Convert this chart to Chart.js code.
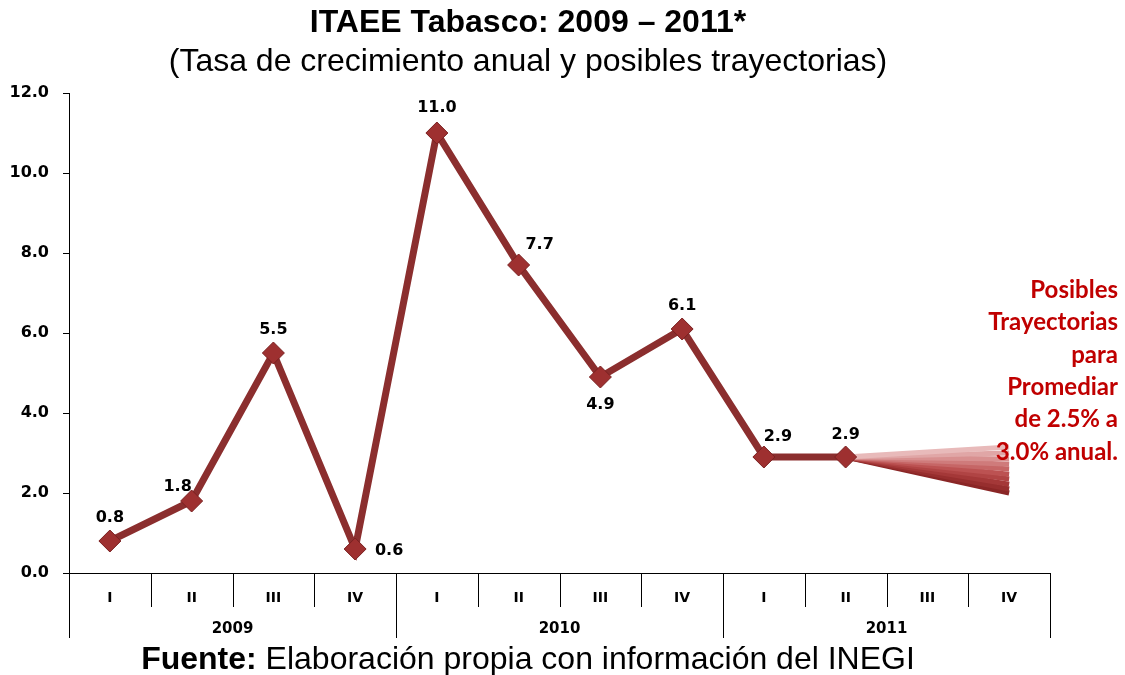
<!DOCTYPE html>
<html>
<head>
<meta charset="utf-8">
<script src="https://cdn.jsdelivr.net/npm/chart.js@4.4.1/dist/chart.umd.min.js"></script>
<style>
  html, body { margin: 0; padding: 0; background: #fff; }
  #wrap { width: 1125px; height: 675px; }
</style>
</head>
<body>
<div id="wrap"><canvas id="itaee"></canvas></div>
<script>
// datos del grafico
const quarters = ["I", "II", "III", "IV", "I", "II", "III", "IV", "I", "II", "III", "IV"];
const years = ["2009", "2010", "2011"];
const growth = [0.8, 1.8, 5.5, 0.6, 11.0, 7.7, 4.9, 6.1, 2.9, 2.9, null, null];
// final de cada trayectoria posible (2011-IV), de la mas alta a la mas baja
const pathEnds = [3.15, 3.0, 2.85, 2.72, 2.6, 2.47, 2.35, 2.22, 2.1, 2.0];
const yTicks = [0, 2, 4, 6, 8, 10, 12];

const mainColor = "#8B2E2E";
const fanColors = [
  "#E8BABA", "#E0A6A6", "#D89090", "#CF7B7B", "#C66666",
  "#BC5252", "#B04444", "#A43838", "#972E2E", "#8A2626",
];
const tickFont = { family: "'DejaVu Sans', Verdana, sans-serif", size: 15, weight: "bold" };

// posicion de cada etiqueta respecto a su punto
const labelOffsets = [
  [0, -23], [-14, -14], [0, -23], [34, 2], [0, -25],
  [21, -20], [0, 28], [0, -23], [14, -20], [0, -22],
];

const datasets = [
  {
    label: "ITAEE",
    data: growth,
    borderColor: mainColor,
    borderWidth: 7,
    pointStyle: "rectRot",
    pointRadius: 11,
    pointHoverRadius: 11,
    pointBackgroundColor: "#9E3030",
    pointBorderColor: "#7A2020",
    pointBorderWidth: 1,
    tension: 0,
  },
];

pathEnds.forEach((end, i) => {
  const d = [null, null, null, null, null, null, null, null, null, 2.9, null, end];
  datasets.push({
    label: "Trayectoria " + (i + 1),
    data: d,
    borderColor: fanColors[i],
    borderWidth: 5,
    pointRadius: 0,
    spanGaps: true,
    tension: 0,
  });
});

const extraText = {
  id: "extraText",
  afterDraw(chart) {
    const ctx = chart.ctx;
    const x = chart.scales.x;
    const y = chart.scales.y;
    const base = y.getPixelForValue(0);
    ctx.save();

    // separadores del eje de categorias
    ctx.strokeStyle = "#000";
    ctx.lineWidth = 1;
    for (let i = 0; i <= quarters.length; i++) {
      const px = Math.round(x.getPixelForValue(i - 0.5)) + 0.5;
      const yearEdge = i % 4 === 0;
      ctx.beginPath();
      ctx.moveTo(px, base);
      ctx.lineTo(px, base + (yearEdge ? 65 : 34));
      ctx.stroke();
    }

    // anos
    ctx.fillStyle = "#000";
    ctx.font = "bold 15px 'DejaVu Sans', Verdana, sans-serif";
    ctx.textAlign = "center";
    ctx.textBaseline = "middle";
    years.forEach((yr, k) => {
      const cx = (x.getPixelForValue(k * 4) + x.getPixelForValue(k * 4 + 3)) / 2;
      ctx.fillText(yr, cx, base + 56);
    });

    // etiquetas de datos
    ctx.font = "bold 16px 'DejaVu Sans', Verdana, sans-serif";
    const meta = chart.getDatasetMeta(0);
    growth.forEach((v, i) => {
      if (v === null) return;
      const pt = meta.data[i];
      const off = labelOffsets[i];
      ctx.fillText(v.toFixed(1), pt.x + off[0], pt.y + off[1]);
    });

    // titulos
    ctx.font = "bold 32px 'Liberation Sans', Arial, sans-serif";
    ctx.fillText("ITAEE Tabasco: 2009 \u2013 2011*", 528, 23);
    ctx.font = "32px 'Liberation Sans', Arial, sans-serif";
    ctx.fillText("(Tasa de crecimiento anual y posibles trayectorias)", 528, 62);

    // fuente
    const boldPart = "Fuente:";
    const restPart = " Elaboraci\u00f3n propia con informaci\u00f3n del INEGI";
    ctx.font = "bold 32px 'Liberation Sans', Arial, sans-serif";
    const w1 = ctx.measureText(boldPart).width;
    ctx.font = "32px 'Liberation Sans', Arial, sans-serif";
    const w2 = ctx.measureText(restPart).width;
    const startX = 528 - (w1 + w2) / 2;
    ctx.textAlign = "left";
    ctx.font = "bold 32px 'Liberation Sans', Arial, sans-serif";
    ctx.fillText(boldPart, startX, 660);
    ctx.font = "32px 'Liberation Sans', Arial, sans-serif";
    ctx.fillText(restPart, startX + w1, 660);

    // nota en rojo
    const note = ["Posibles", "Trayectorias", "para", "Promediar", "de 2.5% a", "3.0% anual."];
    ctx.fillStyle = "#C00000";
    ctx.textAlign = "right";
    ctx.font = "bold 24px Lato, 'Open Sans', sans-serif";
    note.forEach((line, i) => {
      ctx.fillText(line, 1118, 290 + i * 32.4);
    });

    ctx.restore();
  },
};

new Chart(document.getElementById("itaee"), {
  type: "line",
  data: { labels: quarters, datasets: datasets },
  options: {
    responsive: true,
    maintainAspectRatio: false,
    animation: false,
    layout: { padding: { left: 0, right: 75, top: 93, bottom: 0 } },
    plugins: {
      legend: { display: false },
      title: { display: false },
      tooltip: { enabled: false },
    },
    scales: {
      x: {
        offset: true,
        grid: { display: false, drawTicks: false },
        border: { display: true, color: "#000", width: 1 },
        ticks: { color: "#000", font: { ...tickFont, size: 14 }, padding: 17, maxRotation: 0, autoSkip: false },
        afterFit: (s) => { s.height = 102; },
      },
      y: {
        min: 0,
        max: 12,
        afterBuildTicks: (s) => { s.ticks = yTicks.map((v) => ({ value: v })); },
        grid: { drawOnChartArea: false, drawTicks: true, tickLength: 6, color: "#000" },
        border: { display: true, color: "#000", width: 1 },
        ticks: { color: "#000", font: { ...tickFont, size: 16 }, padding: 14, callback: (v) => Number(v).toFixed(1) },
        afterFit: (s) => { s.width = 69; },
      },
    },
  },
  plugins: [extraText],
});
</script>
</body>
</html>
